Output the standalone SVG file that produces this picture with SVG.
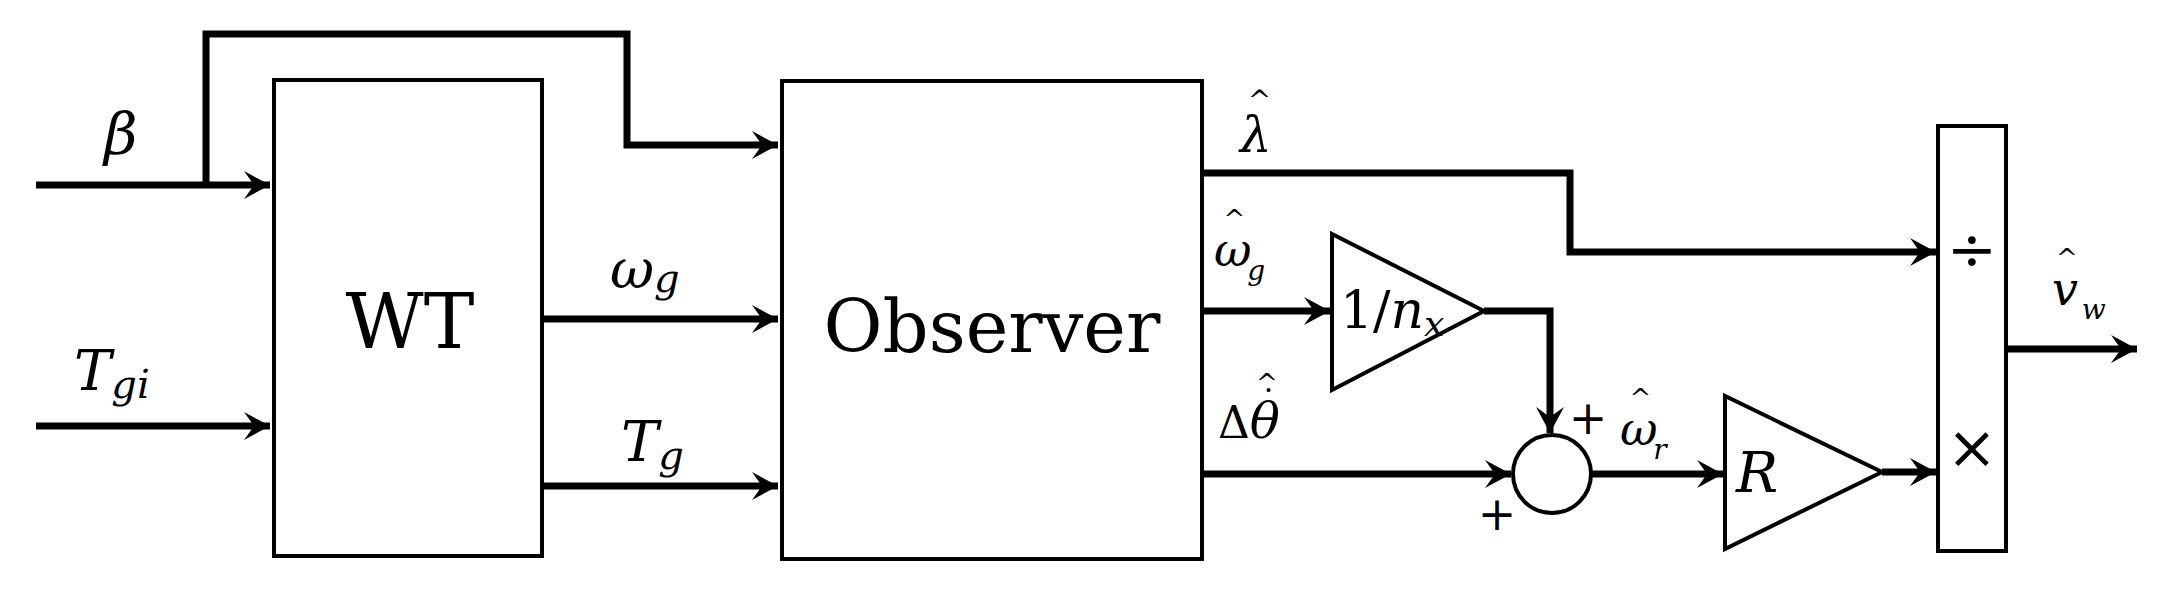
<svg xmlns="http://www.w3.org/2000/svg" width="2170" height="602" viewBox="0 0 2170 602" font-family="'DejaVu Serif','Liberation Serif',serif">
<style>
.b{fill:none;stroke:#000;stroke-width:4}
.w{fill:none;stroke:#000;stroke-width:7}
text{font-family:'DejaVu Serif','Liberation Serif',serif;fill:#000}
.i{font-style:italic}
.h{font-style:normal}
</style>
<defs>
<marker id="a" markerWidth="32" markerHeight="32" refX="30" refY="16" orient="auto" markerUnits="userSpaceOnUse" viewBox="0 0 32 32">
<path d="M30,16 L4,2 L14,16 L4,30 Z" fill="#000"/>
</marker>
</defs>
<rect width="2170" height="602" fill="#fff"/>
<g id="WT"><rect class="b" x="274" y="80" width="268" height="476"/><text x="410" y="348" font-size="76" text-anchor="middle">WT</text></g>
<g id="Observer"><rect class="b" x="782" y="81" width="420" height="478"/><text x="992" y="352" font-size="72" text-anchor="middle">Observer</text></g>
<g id="gain1"><polygon class="b" points="1332,234 1332,390 1484,311"/><text x="1340" y="328" font-size="52">1/<tspan class="i">n</tspan><tspan class="i" font-size="36" dy="8">x</tspan></text></g>
<g id="sum"><circle class="b" cx="1552" cy="474" r="39"/><text x="1588" y="434" font-size="46" text-anchor="middle">+</text><text x="1497" y="530" font-size="46" text-anchor="middle">+</text></g>
<g id="gainR"><polygon class="b" points="1725,396 1725,549 1882,472"/><text x="1736" y="492" font-size="56" class="i">R</text></g>
<g id="divmul"><rect class="b" x="1938" y="126" width="68" height="425"/><text x="1972" y="270" font-size="60" text-anchor="middle">÷</text><text x="1972" y="468" font-size="60" text-anchor="middle">×</text></g>
<g id="connectors" class="w">
<path d="M36,185 H270" marker-end="url(#a)"/>
<path d="M206,185 V34 H627 V145 H778" marker-end="url(#a)"/>
<path d="M36,426 H270" marker-end="url(#a)"/>
<path d="M542,319 H778" marker-end="url(#a)"/>
<path d="M542,486 H778" marker-end="url(#a)"/>
<path d="M1202,173 H1570 V252 H1936" marker-end="url(#a)"/>
<path d="M1202,311 H1330" marker-end="url(#a)"/>
<path d="M1484,311 H1550 V433" marker-end="url(#a)"/>
<path d="M1202,474 H1511" marker-end="url(#a)"/>
<path d="M1591,474 H1723" marker-end="url(#a)"/>
<path d="M1882,472 H1936" marker-end="url(#a)"/>
<path d="M2006,349 H2137" marker-end="url(#a)"/>
</g>
<g id="labels">
<text x="104" y="154" class="i" font-size="58">β</text>
<text x="74" y="390" class="i" font-size="56">T<tspan font-size="40" dy="8">gi</tspan></text>
<text x="610" y="288" class="i" font-size="54">ω<tspan font-size="40" dy="4">g</tspan></text>
<text x="621" y="461" class="i" font-size="56">T<tspan font-size="40" dy="8">g</tspan></text>
<text x="1240" y="152" class="i" font-size="50">λ<tspan class="h" font-size="28" dx="-24" dy="-42">^</tspan></text>
<text x="1214" y="266" class="i" font-size="46">ω<tspan class="h" font-size="26" dx="-28" dy="-38">^</tspan><tspan font-size="28" dx="2" dy="52">g</tspan></text>
<text x="1218" y="438" font-size="44">Δ<tspan class="i" font-size="50">θ</tspan><tspan class="h" font-size="26" dx="-24" dy="-46">^</tspan><tspan class="h" font-size="30" dx="-14" dy="8">·</tspan></text>
<text x="1620" y="445" class="i" font-size="46">ω<tspan class="h" font-size="26" dx="-28" dy="-38">^</tspan><tspan font-size="28" dx="2" dy="52">r</tspan></text>
<text x="2052" y="305" class="i" font-size="46">v<tspan class="h" font-size="26" dx="-22" dy="-38">^</tspan><tspan font-size="28" dx="4" dy="52">w</tspan></text>
</g>
</svg>
